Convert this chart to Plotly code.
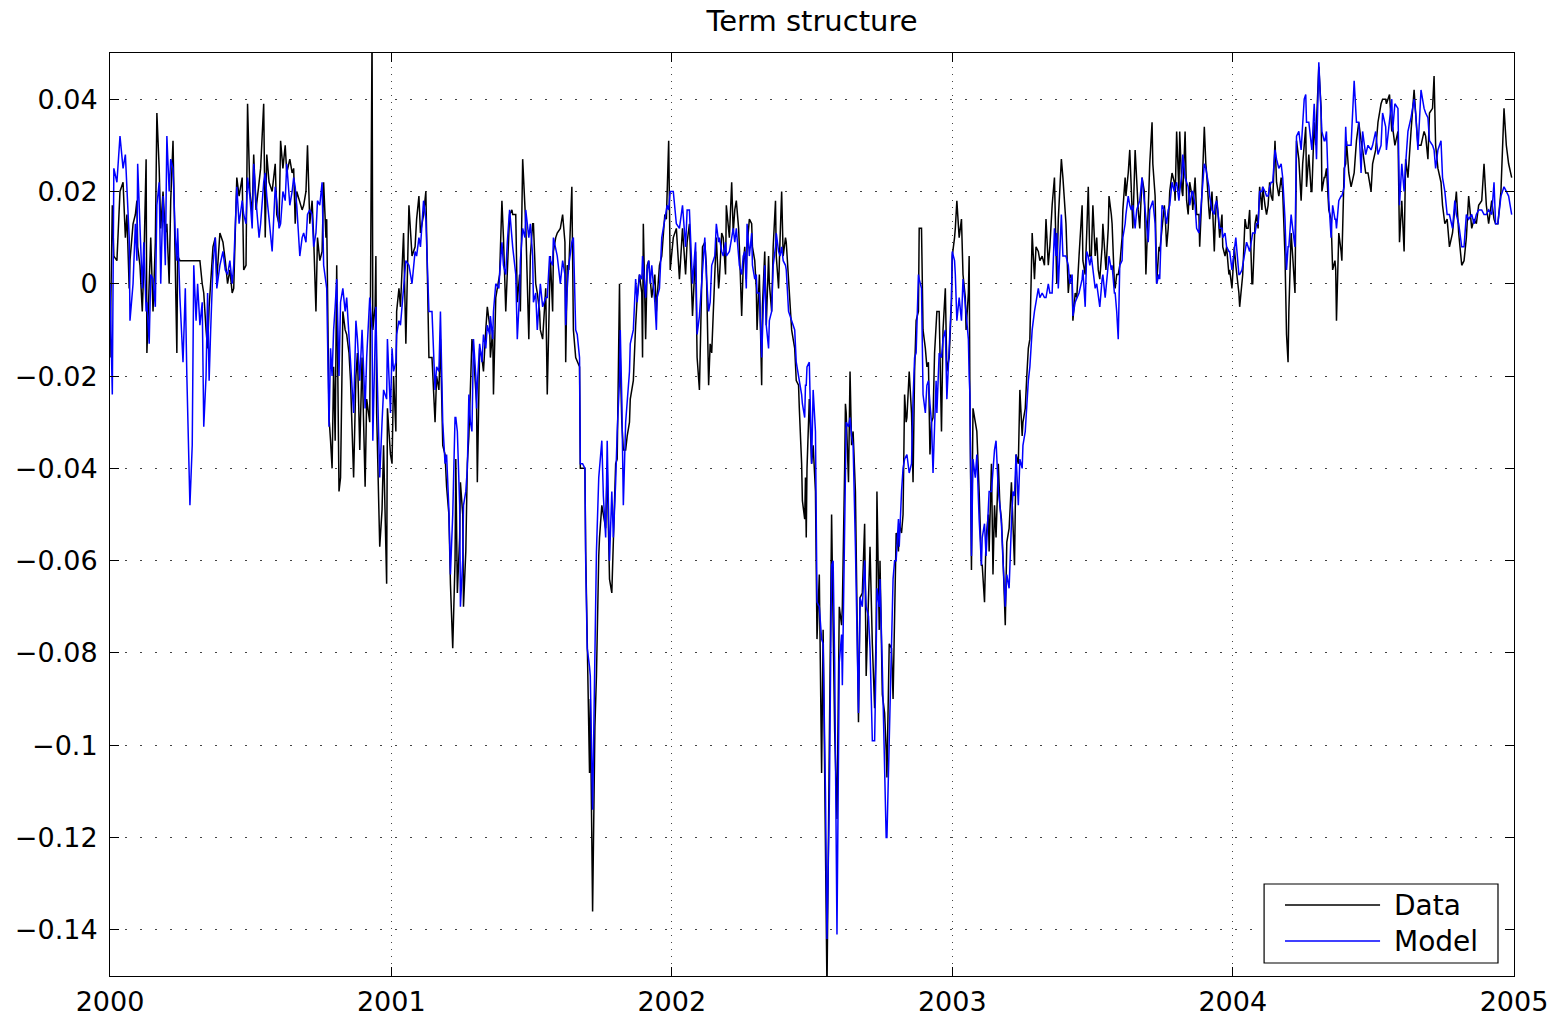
import pandas as pd
import plotly.graph_objects as go

# Observation dates, as days counted from 2000-01-01
days = [
    0, 3, 5, 9, 13, 17, 20, 22, 25, 26, 30, 33, 35, 36, 39, 42, 44, 47, 48, 51,
    53, 56, 59, 61, 64, 66, 69, 72, 74, 77, 79, 82, 85, 87, 88, 91, 95, 98, 100, 104,
    107, 109, 112, 114, 117, 120, 122, 125, 127, 129, 131, 134, 137, 139, 143, 147, 150, 153, 156, 159,
    161, 165, 168, 172, 174, 177, 179, 182, 185, 187, 190, 194, 196, 200, 202, 204, 207, 211, 215, 217,
    220, 222, 225, 228, 230, 234, 237, 239, 241, 243, 247, 250, 252, 255, 257, 260, 263, 265, 268, 270,
    273, 276, 278, 281, 282, 285, 287, 289, 291, 293, 295, 298, 300, 303, 306, 308, 311, 313, 317, 320,
    322, 325, 328, 332, 334, 338, 341, 342, 345, 346, 347, 351, 354, 356, 360, 361, 365, 367, 369, 372,
    373, 376, 378, 382, 385, 389, 393, 397, 399, 402, 404, 408, 411, 413, 415, 419, 423, 425, 428, 430,
    433, 436, 438, 441, 443, 446, 449, 450, 452, 455, 456, 459, 460, 463, 465, 467, 469, 471, 473, 476,
    477, 478, 481, 484, 486, 489, 491, 494, 495, 498, 499, 502, 506, 507, 510, 512, 515, 517, 520, 523,
    524, 528, 530, 533, 534, 537, 540, 541, 545, 547, 550, 551, 554, 556, 559, 560, 563, 567, 569, 572,
    573, 576, 577, 580, 582, 586, 589, 592, 593, 595, 597, 601, 603, 606, 608, 611, 612, 615, 618, 619,
    621, 624, 625, 628, 631, 633, 636, 637, 640, 642, 645, 647, 650, 653, 655, 658, 660, 663, 664, 666,
    668, 671, 673, 676, 677, 681, 684, 686, 689, 692, 693, 694, 697, 699, 701, 703, 705, 709, 711, 712,
    715, 718, 722, 724, 725, 727, 729, 733, 737, 741, 745, 749, 751, 754, 758, 762, 764, 767, 771, 774,
    776, 779, 781, 783, 787, 789, 792, 793, 796, 798, 801, 802, 806, 809, 811, 813, 815, 818, 819, 822,
    824, 826, 828, 829, 832, 835, 836, 839, 841, 842, 845, 848, 849, 852, 854, 857, 858, 861, 863, 866,
    867, 870, 872, 874, 876, 879, 880, 883, 885, 887, 889, 891, 893, 896, 897, 900, 901, 904, 905, 906,
    907, 910, 913, 915, 918, 920, 923, 926, 928, 931, 933, 936, 939, 941, 943, 946, 949, 952, 953, 956,
    957, 958, 961, 963, 965, 967, 970, 974, 976, 979, 982, 984, 987, 989, 992, 995, 997, 998, 1001, 1002,
    1005, 1008, 1010, 1011, 1014, 1017, 1019, 1021, 1023, 1026, 1027, 1030, 1032, 1034, 1036, 1037, 1040, 1043, 1045, 1047,
    1049, 1052, 1053, 1056, 1058, 1061, 1063, 1065, 1067, 1069, 1071, 1073, 1075, 1076, 1079, 1082, 1084, 1087, 1089, 1092,
    1095, 1096, 1099, 1100, 1102, 1105, 1108, 1110, 1113, 1114, 1117, 1118, 1119, 1121, 1123, 1126, 1128, 1131, 1134, 1135,
    1138, 1140, 1143, 1144, 1147, 1149, 1151, 1153, 1156, 1158, 1160, 1162, 1165, 1167, 1170, 1173, 1175, 1177, 1179, 1182,
    1184, 1187, 1188, 1191, 1193, 1195, 1197, 1200, 1203, 1205, 1208, 1210, 1213, 1216, 1218, 1221, 1223, 1226, 1229, 1231,
    1232, 1234, 1238, 1240, 1243, 1244, 1247, 1249, 1252, 1253, 1256, 1258, 1261, 1265, 1266, 1269, 1271, 1273, 1275, 1277,
    1279, 1282, 1284, 1286, 1288, 1291, 1292, 1295, 1296, 1299, 1300, 1303, 1304, 1307, 1308, 1310, 1312, 1314, 1317, 1318,
    1321, 1322, 1325, 1327, 1329, 1331, 1334, 1336, 1338, 1340, 1343, 1346, 1348, 1351, 1353, 1356, 1357, 1360, 1362, 1365,
    1366, 1369, 1372, 1373, 1375, 1377, 1379, 1382, 1385, 1386, 1388, 1391, 1392, 1395, 1396, 1399, 1401, 1403, 1405, 1408,
    1409, 1412, 1414, 1417, 1418, 1421, 1424, 1426, 1427, 1430, 1431, 1434, 1437, 1438, 1440, 1442, 1444, 1447, 1448, 1451,
    1453, 1456, 1457, 1460, 1463, 1465, 1468, 1469, 1470, 1473, 1474, 1477, 1479, 1481, 1483, 1486, 1487, 1490, 1492, 1494,
    1496, 1499, 1500, 1503, 1505, 1507, 1509, 1511, 1513, 1516, 1518, 1521, 1524, 1526, 1529, 1531, 1533, 1534, 1537, 1539,
    1542, 1544, 1547, 1550, 1552, 1554, 1556, 1557, 1560, 1563, 1564, 1567, 1569, 1570, 1573, 1576, 1577, 1580, 1581, 1583,
    1586, 1589, 1591, 1594, 1595, 1596, 1599, 1602, 1603, 1606, 1608, 1609, 1612, 1615, 1619, 1622, 1625, 1628, 1630, 1634,
    1637, 1641, 1643, 1647, 1650, 1654, 1656, 1660, 1661, 1665, 1668, 1669, 1672, 1676, 1678, 1681, 1684, 1686, 1689, 1693,
    1697, 1699, 1702, 1706, 1710, 1712, 1715, 1717, 1721, 1723, 1725, 1728, 1732, 1734, 1737, 1740, 1743, 1747, 1750, 1752,
    1755, 1759, 1762, 1765, 1768, 1772, 1775, 1778, 1781, 1785, 1788, 1791, 1794, 1798, 1801, 1803, 1806, 1810, 1814, 1817,
    1820, 1824,
]

# Observed term-structure slope
data_vals = [
    -0.016, 0.017, 0.006, 0.005, 0.020, 0.022, 0.010, 0.015, -0.001, 0.005, 0.013, 0.015, 0.018, 0.008, 0.004, -0.006, 0.004, 0.027, -0.015, 0.000,
    0.010, -0.006, 0.009, 0.037, 0.025, 0.012, 0.020, 0.011, 0.013, 0.000, 0.018, 0.031, 0.004, -0.015, 0.006, 0.005, 0.005, 0.005, 0.005, 0.005,
    0.005, 0.005, 0.005, 0.005, 0.005, 0.000, -0.002, -0.010, -0.014, -0.005, 0.000, 0.008, 0.010, 0.001, 0.011, 0.009, 0.005, 0.000, 0.003, -0.002,
    -0.001, 0.023, 0.019, 0.023, 0.003, 0.004, 0.039, 0.020, 0.015, 0.028, 0.016, 0.023, 0.025, 0.039, 0.010, 0.028, 0.022, 0.020, 0.026, 0.015,
    0.013, 0.031, 0.025, 0.030, 0.024, 0.027, 0.024, 0.025, 0.013, 0.020, 0.018, 0.016, 0.017, 0.020, 0.030, 0.013, 0.018, 0.010, -0.006, 0.010,
    0.005, 0.007, 0.022, 0.010, 0.014, -0.029, -0.034, -0.040, -0.018, -0.034, 0.004, -0.045, -0.042, -0.006, -0.010, -0.011, -0.015, -0.021, -0.042, -0.020,
    -0.015, -0.036, -0.016, -0.044, -0.025, -0.030, 0.055, -0.010, -0.005, 0.006, -0.028, -0.057, -0.049, -0.035, -0.065, -0.027, -0.037, -0.039, -0.020, -0.032,
    -0.006, -0.001, -0.005, 0.011, -0.013, 0.017, 0.006, 0.008, 0.014, 0.019, 0.011, 0.015, 0.020, 0.005, -0.016, -0.016, -0.030, -0.020, -0.023, -0.012,
    -0.035, -0.037, -0.044, -0.050, -0.065, -0.079, -0.060, -0.038, -0.067, -0.055, -0.043, -0.050, -0.070, -0.058, -0.039, -0.033, -0.020, -0.012, -0.015, -0.025,
    -0.026, -0.043, -0.014, -0.016, -0.019, -0.010, -0.005, -0.009, -0.016, -0.010, -0.024, -0.003, 0.001, 0.002, 0.018, 0.010, -0.006, 0.003, 0.015, 0.016,
    0.015, 0.015, -0.004, 0.002, -0.006, 0.027, 0.014, 0.013, -0.012, 0.006, 0.013, 0.013, 0.000, -0.002, -0.006, -0.010, -0.012, -0.001, -0.024, 0.002,
    0.006, -0.006, 0.007, 0.010, 0.011, 0.012, 0.015, 0.009, -0.017, 0.004, 0.003, 0.021, -0.010, -0.016, -0.017, -0.018, -0.040, -0.040, -0.040, -0.058,
    -0.080, -0.106, -0.090, -0.136, -0.096, -0.085, -0.059, -0.055, -0.048, -0.050, -0.053, -0.040, -0.064, -0.067, -0.057, -0.039, -0.038, 0.000, -0.016, -0.030,
    -0.036, -0.036, -0.033, -0.030, -0.025, -0.021, -0.009, -0.003, 0.002, -0.002, -0.016, 0.013, -0.012, 0.004, 0.005, 0.001, -0.003, 0.002, -0.006, -0.003,
    0.004, 0.006, 0.015, 0.014, 0.020, 0.031, 0.003, 0.010, 0.012, 0.001, 0.012, 0.002, 0.009, 0.013, -0.007, 0.007, -0.016, -0.023, 0.008, 0.009,
    0.004, -0.022, -0.013, -0.015, 0.002, 0.010, -0.001, 0.001, 0.011, 0.010, 0.002, 0.017, 0.010, 0.022, 0.011, 0.016, 0.018, 0.012, 0.008, -0.007,
    0.004, 0.008, 0.001, 0.008, 0.014, 0.013, 0.008, 0.005, -0.001, -0.010, 0.002, -0.022, -0.005, 0.007, -0.009, 0.006, 0.000, -0.006, 0.008, 0.018,
    0.006, -0.001, 0.010, 0.020, 0.006, 0.010, 0.009, 0.000, -0.006, -0.010, -0.012, -0.014, -0.021, -0.022, -0.027, -0.039, -0.047, -0.051, -0.042, -0.055,
    -0.040, -0.025, -0.039, -0.035, -0.045, -0.077, -0.063, -0.106, -0.075, -0.120, -0.153, -0.101, -0.050, -0.074, -0.097, -0.116, -0.070, -0.074, -0.070, -0.040,
    -0.026, -0.028, -0.043, -0.019, -0.035, -0.032, -0.045, -0.095, -0.068, -0.067, -0.052, -0.085, -0.070, -0.057, -0.078, -0.092, -0.075, -0.045, -0.075, -0.060,
    -0.089, -0.093, -0.101, -0.107, -0.078, -0.079, -0.090, -0.069, -0.054, -0.058, -0.052, -0.054, -0.050, -0.024, -0.030, -0.029, -0.019, -0.028, -0.043, -0.019,
    -0.008, -0.006, 0.012, 0.012, -0.010, -0.014, -0.018, -0.017, -0.037, -0.030, -0.029, -0.015, -0.009, -0.006, -0.006, -0.032, -0.010, -0.001, -0.019, -0.016,
    -0.004, 0.006, 0.010, 0.012, 0.018, 0.010, 0.014, 0.002, -0.003, -0.010, -0.002, 0.006, -0.025, -0.062, -0.027, -0.030, -0.032, -0.045, -0.061, -0.061,
    -0.069, -0.055, -0.050, -0.058, -0.039, -0.063, -0.048, -0.055, -0.039, -0.048, -0.051, -0.059, -0.074, -0.056, -0.053, -0.043, -0.051, -0.061, -0.037, -0.039,
    -0.023, -0.033, -0.030, -0.027, -0.020, -0.014, -0.012, 0.011, 0.001, 0.008, 0.007, 0.005, 0.006, 0.004, 0.014, 0.004, 0.008, 0.017, 0.023, 0.010,
    0.000, 0.014, 0.027, 0.023, 0.014, 0.013, -0.002, 0.002, 0.001, -0.008, -0.002, -0.003, 0.006, 0.017, 0.005, 0.002, 0.011, 0.021, 0.006, 0.006,
    0.017, 0.006, 0.010, 0.003, 0.001, 0.008, 0.013, 0.004, 0.003, 0.012, 0.019, 0.015, 0.013, 0.000, -0.001, 0.002, 0.002, 0.004, 0.010, 0.016,
    0.023, 0.019, 0.024, 0.029, 0.022, 0.012, 0.029, 0.022, 0.016, 0.012, 0.023, 0.020, 0.002, 0.016, 0.026, 0.035, 0.026, 0.019, 0.000, 0.008,
    0.007, 0.012, 0.017, 0.015, 0.008, 0.012, 0.020, 0.024, 0.022, 0.018, 0.033, 0.020, 0.033, 0.020, 0.019, 0.033, 0.018, 0.015, 0.022, 0.019,
    0.016, 0.023, 0.015, 0.015, 0.008, 0.020, 0.034, 0.026, 0.024, 0.016, 0.014, 0.020, 0.007, 0.012, 0.019, 0.015, 0.010, 0.015, 0.008, 0.006,
    0.008, 0.002, 0.003, -0.001, 0.008, 0.004, 0.000, -0.002, -0.005, 0.000, 0.002, 0.014, 0.012, 0.012, 0.016, 0.000, 0.000, 0.013, 0.015, 0.012,
    0.021, 0.016, 0.021, 0.017, 0.015, 0.017, 0.022, 0.019, 0.018, 0.031, 0.022, 0.019, 0.023, 0.020, 0.006, -0.011, -0.017, -0.006, 0.011, 0.006,
    -0.002, 0.031, 0.027, 0.018, 0.026, 0.030, 0.034, 0.021, 0.028, 0.020, 0.020, 0.035, 0.030, 0.035, 0.047, 0.038, 0.020, 0.023, 0.023, 0.025,
    0.016, 0.014, 0.003, 0.005, 0.003, -0.008, 0.011, 0.007, 0.005, 0.025, 0.026, 0.031, 0.024, 0.021, 0.024, 0.031, 0.035, 0.031, 0.029, 0.024,
    0.024, 0.020, 0.026, 0.029, 0.035, 0.039, 0.040, 0.040, 0.039, 0.041, 0.033, 0.034, 0.030, 0.033, 0.009, 0.018, 0.007, 0.027, 0.023, 0.033,
    0.042, 0.037, 0.030, 0.030, 0.033, 0.032, 0.027, 0.037, 0.038, 0.045, 0.030, 0.025, 0.022, 0.017, 0.013, 0.014, 0.008, 0.011, 0.016, 0.020,
    0.011, 0.004, 0.005, 0.010, 0.019, 0.012, 0.014, 0.013, 0.017, 0.018, 0.026, 0.017, 0.013, 0.018, 0.014, 0.013, 0.013, 0.020, 0.038, 0.030,
    0.026, 0.023,
]

# Model-implied term-structure slope
model_vals = [
    0.000, -0.024, 0.025, 0.022, 0.032, 0.025, 0.028, 0.021, 0.010, -0.008, 0.000, 0.013, 0.005, 0.026, 0.010, -0.001, 0.009, -0.006, -0.004, -0.013,
    0.002, 0.001, -0.005, 0.017, 0.022, 0.000, 0.019, 0.004, 0.032, 0.020, 0.027, 0.025, 0.010, 0.005, 0.012, -0.003, -0.017, -0.001, -0.020, -0.048,
    -0.035, 0.004, -0.008, 0.000, -0.009, -0.004, -0.031, -0.020, -0.002, -0.021, -0.010, 0.004, 0.010, -0.001, 0.004, 0.007, 0.003, 0.002, 0.005, 0.000,
    0.004, 0.021, 0.013, 0.018, 0.015, 0.013, 0.023, 0.019, 0.012, 0.026, 0.018, 0.010, 0.013, 0.022, 0.024, 0.019, 0.014, 0.007, 0.021, 0.018,
    0.012, 0.013, 0.020, 0.018, 0.026, 0.017, 0.020, 0.023, 0.021, 0.017, 0.006, 0.010, 0.011, 0.009, 0.015, 0.016, 0.015, 0.008, 0.011, 0.018,
    0.017, 0.022, 0.004, 0.000, -0.001, -0.031, -0.014, -0.020, -0.010, -0.005, 0.001, -0.020, -0.004, -0.001, -0.006, -0.003, -0.012, -0.017, -0.028, -0.008,
    -0.012, -0.021, -0.010, -0.027, -0.016, -0.003, -0.010, -0.034, -0.015, -0.005, -0.015, -0.042, -0.030, -0.023, -0.025, -0.012, -0.028, -0.014, -0.019, -0.017,
    -0.011, -0.008, -0.009, -0.001, 0.005, 0.004, 0.000, 0.007, 0.006, 0.010, 0.008, 0.018, 0.014, 0.004, -0.006, -0.006, -0.023, -0.018, -0.019, -0.006,
    -0.030, -0.039, -0.037, -0.049, -0.063, -0.050, -0.029, -0.029, -0.032, -0.048, -0.070, -0.060, -0.048, -0.045, -0.040, -0.024, -0.030, -0.032, -0.012, -0.020,
    -0.027, -0.022, -0.013, -0.017, -0.011, -0.014, -0.009, -0.011, -0.007, -0.012, -0.006, 0.000, -0.001, 0.002, 0.009, 0.004, 0.002, 0.009, 0.016, 0.010,
    0.008, 0.002, -0.012, -0.002, 0.005, 0.012, 0.010, 0.016, 0.010, 0.013, 0.006, -0.004, -0.002, -0.010, -0.002, 0.000, -0.005, -0.003, -0.003, 0.006,
    0.005, 0.004, 0.010, 0.008, 0.006, 0.000, 0.005, 0.002, -0.009, -0.001, 0.004, 0.009, 0.010, -0.010, -0.011, -0.016, -0.039, -0.039, -0.040, -0.060,
    -0.079, -0.083, -0.085, -0.114, -0.083, -0.058, -0.042, -0.040, -0.034, -0.046, -0.055, -0.034, -0.060, -0.045, -0.055, -0.043, -0.032, -0.021, -0.010, -0.025,
    -0.048, -0.030, -0.025, -0.019, -0.013, -0.010, 0.001, -0.004, 0.002, 0.001, 0.006, 0.004, -0.003, 0.003, 0.005, 0.000, 0.004, -0.004, -0.010, -0.003,
    -0.001, 0.010, 0.014, 0.016, 0.017, 0.016, 0.020, 0.020, 0.013, 0.012, 0.017, 0.008, 0.016, 0.016, 0.000, 0.009, -0.011, -0.007, 0.002, 0.010,
    0.002, -0.006, -0.004, 0.004, 0.006, 0.013, 0.009, 0.010, 0.007, 0.006, 0.009, 0.006, 0.007, 0.010, 0.012, 0.009, 0.012, 0.006, 0.004, 0.002,
    0.006, 0.007, -0.001, 0.013, 0.006, 0.011, 0.004, 0.001, 0.002, -0.002, -0.002, -0.016, -0.010, 0.004, -0.009, -0.014, -0.008, -0.006, 0.004, 0.008,
    0.011, 0.007, 0.006, 0.008, 0.005, 0.004, 0.003, -0.006, -0.007, -0.008, -0.009, -0.010, -0.017, -0.020, -0.021, -0.024, -0.026, -0.029, -0.022, -0.022,
    -0.018, -0.017, -0.039, -0.023, -0.032, -0.069, -0.070, -0.077, -0.078, -0.110, -0.142, -0.113, -0.061, -0.060, -0.082, -0.141, -0.082, -0.076, -0.087, -0.045,
    -0.033, -0.030, -0.031, -0.029, -0.033, -0.035, -0.057, -0.093, -0.068, -0.070, -0.060, -0.070, -0.072, -0.079, -0.099, -0.099, -0.080, -0.066, -0.070, -0.064,
    -0.083, -0.107, -0.120, -0.120, -0.100, -0.080, -0.064, -0.060, -0.060, -0.051, -0.057, -0.045, -0.040, -0.038, -0.037, -0.037, -0.041, -0.039, -0.025, -0.016,
    -0.015, 0.002, 0.001, -0.001, -0.024, -0.028, -0.022, -0.021, -0.026, -0.030, -0.041, -0.030, -0.021, -0.028, -0.015, -0.016, -0.012, -0.010, -0.025, -0.014,
    -0.003, 0.007, 0.005, 0.002, -0.008, -0.003, -0.008, 0.001, -0.004, -0.007, -0.012, -0.020, -0.024, -0.059, -0.038, -0.042, -0.037, -0.051, -0.061, -0.055,
    -0.052, -0.059, -0.050, -0.045, -0.045, -0.040, -0.036, -0.034, -0.045, -0.048, -0.052, -0.060, -0.070, -0.063, -0.066, -0.052, -0.045, -0.046, -0.037, -0.048,
    -0.038, -0.040, -0.035, -0.032, -0.026, -0.021, -0.018, -0.010, -0.006, -0.004, -0.001, -0.003, -0.002, -0.003, -0.003, 0.000, -0.002, -0.002, 0.012, 0.006,
    0.011, -0.001, 0.015, 0.006, 0.006, 0.006, 0.004, 0.000, 0.002, -0.007, -0.004, -0.003, -0.002, 0.001, 0.003, -0.005, 0.007, 0.006, 0.004, 0.006,
    0.003, -0.001, 0.000, -0.003, -0.005, 0.001, 0.002, -0.003, -0.001, 0.004, 0.006, 0.003, 0.004, -0.002, -0.002, -0.006, -0.012, 0.004, 0.005, 0.010,
    0.013, 0.015, 0.019, 0.017, 0.016, 0.017, 0.012, 0.016, 0.017, 0.018, 0.023, 0.018, 0.015, 0.009, 0.016, 0.018, 0.018, 0.013, 0.000, 0.002,
    0.001, 0.017, 0.016, 0.015, 0.013, 0.016, 0.017, 0.022, 0.020, 0.021, 0.022, 0.018, 0.020, 0.024, 0.028, 0.023, 0.022, 0.021, 0.017, 0.020,
    0.020, 0.017, 0.012, 0.011, 0.013, 0.020, 0.026, 0.025, 0.024, 0.021, 0.019, 0.016, 0.015, 0.017, 0.018, 0.015, 0.012, 0.012, 0.010, 0.011,
    0.008, 0.007, 0.007, 0.003, 0.007, 0.010, 0.004, 0.002, 0.002, 0.003, 0.004, 0.007, 0.009, 0.008, 0.007, 0.010, 0.011, 0.011, 0.013, 0.013,
    0.020, 0.020, 0.021, 0.020, 0.019, 0.019, 0.021, 0.022, 0.022, 0.029, 0.027, 0.025, 0.026, 0.023, 0.014, 0.003, 0.008, 0.008, 0.015, 0.012,
    0.008, 0.032, 0.033, 0.029, 0.036, 0.040, 0.041, 0.035, 0.035, 0.030, 0.029, 0.039, 0.028, 0.027, 0.048, 0.038, 0.033, 0.031, 0.031, 0.033,
    0.018, 0.010, 0.017, 0.014, 0.014, 0.012, 0.018, 0.019, 0.019, 0.021, 0.034, 0.030, 0.030, 0.030, 0.044, 0.035, 0.035, 0.024, 0.033, 0.028,
    0.030, 0.029, 0.030, 0.033, 0.028, 0.030, 0.037, 0.034, 0.029, 0.036, 0.040, 0.033, 0.039, 0.038, 0.017, 0.026, 0.020, 0.026, 0.033, 0.036,
    0.040, 0.037, 0.029, 0.042, 0.038, 0.037, 0.036, 0.031, 0.030, 0.029, 0.025, 0.029, 0.031, 0.023, 0.020, 0.015, 0.015, 0.012, 0.018, 0.015,
    0.013, 0.008, 0.008, 0.015, 0.014, 0.015, 0.013, 0.015, 0.016, 0.016, 0.015, 0.015, 0.016, 0.015, 0.022, 0.013, 0.013, 0.019, 0.021, 0.020,
    0.019, 0.015,
]

year_ticks = ["2000-01-01", "2001-01-01", "2002-01-01", "2003-01-01", "2004-01-01", "2005-01-01"]
year_labels = ["2000", "2001", "2002", "2003", "2004", "2005"]
y_ticks = [0.04, 0.02, 0.0, -0.02, -0.04, -0.06, -0.08, -0.10, -0.12, -0.14]
y_labels = ["0.04", "0.02", "0", "\u22120.02", "\u22120.04", "\u22120.06", "\u22120.08",
            "\u22120.1", "\u22120.12", "\u22120.14"]

dates = pd.Timestamp("2000-01-01") + pd.to_timedelta(days, unit="D")

FONT = "DejaVu Sans"

fig = go.Figure()
fig.add_trace(go.Scatter(x=dates, y=data_vals, mode="lines", name="Data",
                         line=dict(color="#000000", width=1.5), showlegend=False))
fig.add_trace(go.Scatter(x=dates, y=model_vals, mode="lines", name="Model",
                         line=dict(color="#0000ff", width=1.5), showlegend=False))

axis_common = dict(
    showline=True, linecolor="black", linewidth=1, mirror="allticks",
    ticks="inside", ticklen=9, tickcolor="black", tickwidth=1,
    showgrid=True, gridcolor="#444444", gridwidth=1, zeroline=False,
    automargin=False,
    tickfont=dict(family=FONT, size=27, color="black"),
)

fig.update_xaxes(
    type="date", range=["2000-01-01", "2005-01-01"],
    tickmode="array", tickvals=year_ticks, ticktext=year_labels,
    griddash="1px,6px", ticklabelstandoff=2, **axis_common,
)
fig.update_yaxes(
    range=[-0.15, 0.05], tickmode="array", tickvals=y_ticks, ticktext=y_labels,
    griddash="2px,13px", ticklabelstandoff=6, **axis_common,
)

# Legend box drawn in plot-paper coordinates
legend_box = dict(x0=0.822, x1=0.9886, y0=0.0141, y1=0.0997)
legend_items = [("Data", "#000000", 0.0769), ("Model", "#0000ff", 0.0379)]
shapes = [dict(type="rect", xref="paper", yref="paper", line=dict(color="black", width=1.2),
               fillcolor="white", layer="above", **legend_box)]
annotations = []
for label, color, ypos in legend_items:
    shapes.append(dict(type="line", xref="paper", yref="paper", x0=0.8369, x1=0.9046,
                       y0=ypos, y1=ypos, line=dict(color=color, width=1.3), layer="above"))
    annotations.append(dict(text=label, xref="paper", yref="paper", x=0.9131, y=ypos,
                            xanchor="left", yanchor="middle", showarrow=False,
                            font=dict(family=FONT, size=28, color="black")))

fig.update_layout(
    width=1561, height=1018,
    margin=dict(l=110, r=47, t=53, b=42),
    paper_bgcolor="white", plot_bgcolor="white",
    font=dict(family=FONT, color="black"),
    title=dict(text="Term structure", x=0.5, xref="paper", y=1 - 21 / 1018,
               yanchor="middle", xanchor="center",
               font=dict(family=FONT, size=29, color="black")),
    shapes=shapes, annotations=annotations,
    showlegend=False,
)

fig.write_html("out.html")
